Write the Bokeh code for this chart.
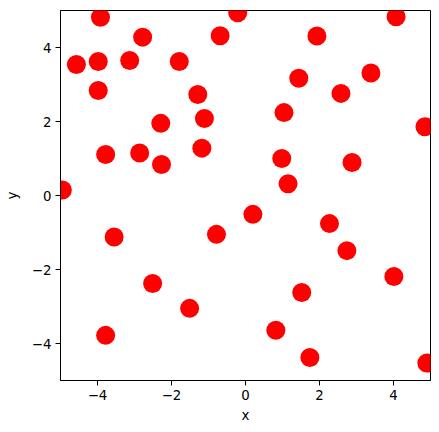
from bokeh.plotting import figure
from bokeh.models import Range1d, FixedTicker
from bokeh.embed import file_html
from bokeh.resources import INLINE

x_vals = [-3.92, -4.57, -3.98, -3.13, -2.78, -1.79, -3.98, -1.29, -2.29, -1.11,
          -3.78, -2.86, -2.27, -1.18, -4.95, -0.21, -0.685, 1.93, 4.07, 1.44,
          3.39, 2.58, 1.04, 4.85, 0.98, 2.88, 1.15, -3.55, -0.785, -2.51,
          -1.51, -3.78, 0.20, 2.27, 2.74, 4.01, 1.52, 0.82, 1.74, 4.90]
y_vals = [4.82, 3.54, 3.62, 3.65, 4.28, 3.62, 2.84, 2.73, 1.95, 2.08,
          1.11, 1.15, 0.84, 1.28, 0.15, 4.94, 4.32, 4.31, 4.83, 3.17,
          3.31, 2.76, 2.24, 1.86, 1.00, 0.89, 0.32, -1.12, -1.05, -2.38,
          -3.05, -3.78, -0.51, -0.76, -1.49, -2.19, -2.62, -3.64, -4.38, -4.53]
tick_values = [-4, -2, 0, 2, 4]
tick_labels = {-4: "\u22124", -2: "\u22122", 0: "0", 2: "2", 4: "4"}

p = figure(frame_width=370, frame_height=370, output_backend="svg",
           toolbar_location=None, x_range=Range1d(-5, 5), y_range=Range1d(-5, 5),
           min_border_left=60, min_border_top=10, min_border_right=4, min_border_bottom=40,
           x_axis_label="x", y_axis_label="y")
p.scatter(x_vals, y_vals, size=19, fill_color="red", line_color="red", line_width=0)

p.grid.visible = False
p.outline_line_color = "black"
p.outline_line_width = 1
p.outline_line_alpha = 1
for ax in (p.xaxis[0], p.yaxis[0]):
    ax.ticker = FixedTicker(ticks=tick_values)
    ax.major_label_overrides = tick_labels
    ax.minor_tick_line_color = None
    ax.major_tick_out = 5
    ax.major_tick_in = 0
    ax.major_label_standoff = 4
    ax.axis_line_color = "black"
    ax.major_tick_line_color = "black"
    ax.major_label_text_font = "DejaVu Sans"
    ax.major_label_text_font_size = "10pt"
    ax.major_label_text_color = "black"
    ax.axis_label_text_font = "DejaVu Sans"
    ax.axis_label_text_font_size = "10pt"
    ax.axis_label_text_font_style = "normal"
    ax.axis_label_text_color = "black"
    ax.axis_label_standoff = 5
p.yaxis[0].axis_label_standoff = 9
p.background_fill_color = "white"
p.border_fill_color = "white"

open("out.html", "w").write(file_html(p, INLINE))
